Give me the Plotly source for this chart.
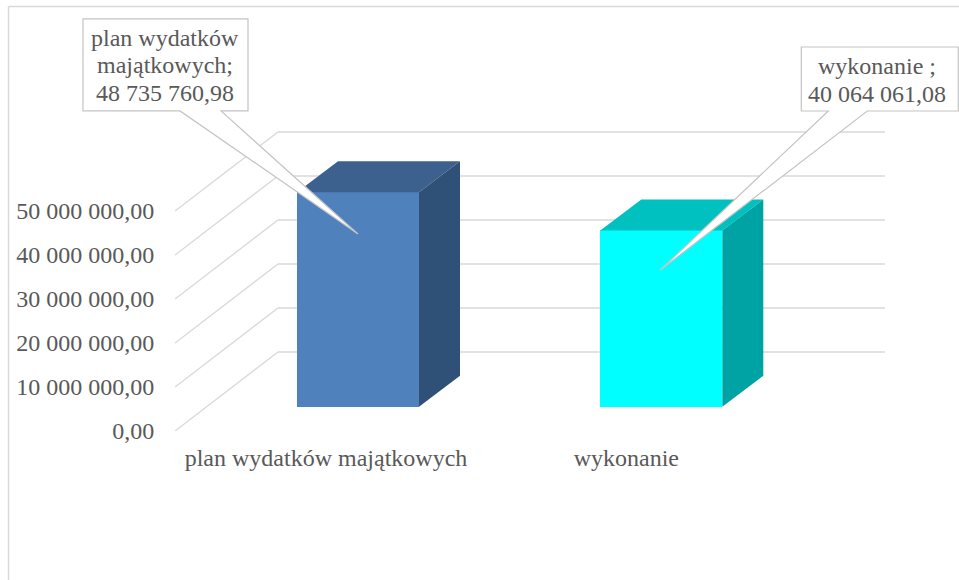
import plotly.graph_objects as go

# --- data ---
categories = ["plan wydatków majątkowych", "wykonanie"]
values = [48735760.98, 40064061.08]
callout_lines = [["plan wydatków", "majątkowych;", "48 735 760,98"],
                 ["wykonanie ;", "40 064 061,08"]]
tick_values = [0, 10000000, 20000000, 30000000, 40000000, 50000000]
tick_labels = ["0,00", "10 000 000,00", "20 000 000,00", "30 000 000,00", "40 000 000,00", "50 000 000,00"]

# --- colours ---
front_colors = ["#4f81bd", "#00ffff"]
top_colors = ["#3c618f", "#00c0c0"]
side_colors = ["#2f5077", "#00a3a3"]
TEXT = "#595959"
GRID = "#d9d9d9"
EDGE = "#c4c4c4"
FONT = "Liberation Serif"
FS = 24

# --- geometry of the window and of the oblique projection (pixels) ---
W, H = 959, 580
PL, PR, PB = 175, 900, 431          # plot rectangle: left, right, bottom (top = 0)
CAT_PX = 303.3                      # pixels per category
CAT0_PX = 358                       # centre of the first bar
VAL_PX = 44 / 10000000              # pixels per value unit
xmin = (PL - CAT0_PX) / CAT_PX
xmax = (PR - CAT0_PX) / CAT_PX
ymax = PB / VAL_PX


def dx(px):
    return px / CAT_PX


def dy(px):
    return px / VAL_PX


def x_paper(x):
    return (x - xmin) / (xmax - xmin)


def y_paper(y):
    return y / ymax


bar_w = dx(122)
bar_base = dy(24.3)
bar_dx, bar_dy = dx(41), dy(31)
wall_dx, wall_dy = dx(103), dy(79)
wall_end = xmin + dx(885 - PL)

# callout outlines relative to the top-centre of each bar's front (px, y down):
# box left, box right, box top, box bottom, wedge base a, wedge base b, tip x, tip y, text x, first-line y
callout_geo = [(-275, -110, -173.3, -81.3, -178, -137, 0, 41.7, -193, -154.3),
               (140, 297, -183.4, -119.4, 167, 206, -1, 39.6, 216, -164.4)]
LINE_PX = 27.5

fig = go.Figure()

xs = list(range(len(categories)))
fig.add_trace(go.Bar(x=xs, y=values, base=bar_base, width=bar_w,
                     marker=dict(color=front_colors, line=dict(width=0)),
                     hoverinfo="y", showlegend=False))

for i, v in enumerate(values):
    xl, xr = i - bar_w / 2, i + bar_w / 2
    y0, y1 = bar_base, bar_base + v
    fig.add_trace(go.Scatter(
        x=[xl, xr, xr + bar_dx, xl + bar_dx, xl],
        y=[y1, y1, y1 + bar_dy, y1 + bar_dy, y1],
        mode="lines", fill="toself", fillcolor=top_colors[i],
        line=dict(width=0), hoverinfo="skip", showlegend=False))
    fig.add_trace(go.Scatter(
        x=[xr, xr + bar_dx, xr + bar_dx, xr, xr],
        y=[y1, y1 + bar_dy, y0 + bar_dy, y0, y1],
        mode="lines", fill="toself", fillcolor=side_colors[i],
        line=dict(width=0), hoverinfo="skip", showlegend=False))

annotations = []
shapes = []
for i, v in enumerate(values):
    L, R, T, B, a, b, tx, ty, lx, ly = callout_geo[i]
    top = bar_base + v
    pts = [(a, B), (L, B), (L, T), (R, T), (R, B), (b, B), (tx, ty)]
    path = "M " + " L ".join(
        f"{x_paper(i + dx(p[0])):.5f},{y_paper(top - dy(p[1])):.5f}" for p in pts) + " Z"
    # paper-referenced so that the callout can leave the plot rectangle unclipped
    shapes.append(dict(type="path", xref="paper", yref="paper", layer="above", path=path,
                       fillcolor="white", line=dict(color=EDGE, width=1.2)))
    for k, line in enumerate(callout_lines[i]):
        annotations.append(dict(
            x=i, y=top, xref="x", yref="y", text=line, showarrow=False,
            xshift=lx, yshift=-(ly + k * LINE_PX), xanchor="center", yanchor="middle",
            font=dict(family=FONT, size=FS, color=TEXT)))

# gridlines: front edge of the side wall -> back wall -> right end
for t in tick_values:
    shapes.append(dict(type="line", layer="below", xref="x", yref="y",
                       x0=xmin, y0=t, x1=xmin + wall_dx, y1=t + wall_dy,
                       line=dict(color=GRID, width=1.3)))
    shapes.append(dict(type="line", layer="below", xref="x", yref="y",
                       x0=xmin + wall_dx, y0=t + wall_dy, x1=wall_end, y1=t + wall_dy,
                       line=dict(color=GRID, width=1.3)))

# outer frame (only left and top edges are visible in the window)
px_x = lambda p: (p - PL) / (PR - PL)
px_y = lambda p: 1 - p / PB
shapes.append(dict(type="line", xref="paper", yref="paper", layer="below",
                   x0=px_x(8.5), x1=px_x(8.5), y0=px_y(6.5), y1=px_y(H),
                   line=dict(color=GRID, width=1.5)))
shapes.append(dict(type="line", xref="paper", yref="paper", layer="below",
                   x0=px_x(8.5), x1=px_x(W), y0=px_y(6.5), y1=px_y(6.5),
                   line=dict(color=GRID, width=1.5)))

label_shift_px = [-32, -35]
fig.update_layout(
    width=W, height=H,
    margin=dict(l=PL, r=W - PR, t=0, b=H - PB, pad=0),
    paper_bgcolor="white", plot_bgcolor="rgba(0,0,0,0)",
    showlegend=False, bargap=0,
    font=dict(family=FONT, size=FS, color=TEXT),
    shapes=shapes, annotations=annotations,
    xaxis=dict(range=[xmin, xmax], tickmode="array",
               tickvals=[i + dx(label_shift_px[i]) for i in xs], ticktext=categories,
               showgrid=False, zeroline=False, showline=False,
               ticks="outside", ticklen=5, tickcolor="rgba(0,0,0,0)", automargin=False),
    yaxis=dict(range=[0, ymax], tickmode="array", tickvals=tick_values, ticktext=tick_labels,
               showgrid=False, zeroline=False, showline=False,
               ticks="outside", ticklen=15, tickcolor="rgba(0,0,0,0)", automargin=False),
)

fig.write_html("out.html", config={"displayModeBar": False},
               post_script="document.body.style.margin='0';")
